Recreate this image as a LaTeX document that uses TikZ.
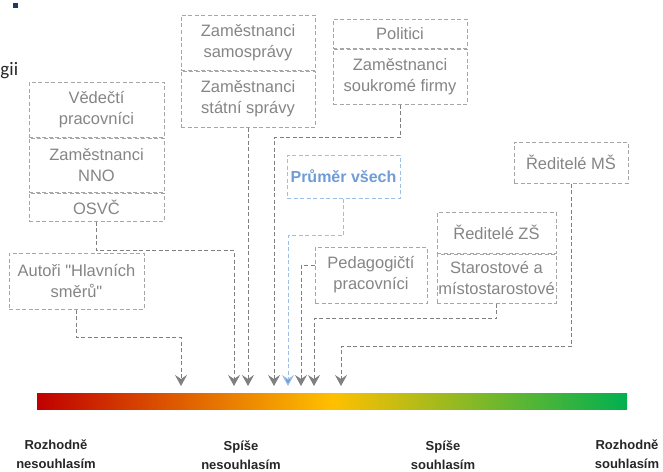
\documentclass[tikz,border=0pt]{standalone}
\usepackage{fontspec}
\setmainfont{Liberation Sans}
\newfontfamily\nadpisfont{Carlito}
\usetikzlibrary{positioning, arrows.meta}

\definecolor{ramecek}{HTML}{A6A6A6}
\definecolor{popis}{HTML}{858585}
\definecolor{sipka}{HTML}{808080}
\definecolor{modra}{HTML}{6F9CD6}
\definecolor{modraram}{HTML}{9DBFE6}
\definecolor{cerna}{HTML}{262626}
\definecolor{namornicka}{HTML}{1F3864}
\definecolor{osared}{HTML}{C00000}
\definecolor{osayellow}{HTML}{FFC000}
\definecolor{osagreen}{HTML}{00B050}

\pgfdeclarehorizontalshading{likert}{100bp}{color(0bp)=(osared); color(25bp)=(osared); color(50bp)=(osayellow); color(75bp)=(osagreen); color(100bp)=(osagreen)}

\tikzset{
  kat/.style={draw=ramecek, dash pattern=on 4pt off 2.5pt, line width=1pt, text=popis,
    font=\fontsize{16.5}{21}\selectfont, align=center, inner sep=0pt},
  spoj/.style={draw=sipka, dash pattern=on 4pt off 2.5pt, line width=1pt,
    -{Stealth[length=11pt, width=12pt, inset=4pt, fill=sipka]}},
  osalabel/.style={font=\bfseries\fontsize{13}{18.5}\selectfont, text=cerna, align=center},
}

\begin{document}
\begin{tikzpicture}[x=1pt, y=-1pt]
\useasboundingbox (0,0) rectangle (663,471);

% kousek titulku
\fill[namornicka] (13,3) rectangle (18,8);
\node[anchor=base west, font=\nadpisfont\fontsize{19}{23}\selectfont, text=cerna, inner sep=0pt] (gii) at (0.3,75) {gii};

% skupiny
\node[kat, minimum width=135pt, minimum height=55pt] (vedci) at (96.5,109.5) {Vědečtí\\pracovníci};
\node[kat, minimum width=135pt, minimum height=54pt, below=0pt of vedci] (nno) {Zaměstnanci\\NNO};
\node[kat, minimum width=135pt, minimum height=28pt, below=0pt of nno] (osvc) {OSVČ};

\node[kat, minimum width=135pt, minimum height=56pt] (autori) at (76.5,281) {Autoři \textquotedbl Hlavních\\směrů\textquotedbl};

\node[kat, minimum width=134pt, minimum height=55pt] (samosprava) at (248,42.5) {Zaměstnanci\\samosprávy};
\node[kat, minimum width=134pt, minimum height=56pt, below=0pt of samosprava] (statni) {Zaměstnanci\\státní správy};

\node[kat, minimum width=134pt, minimum height=29pt] (politici) at (400,33.5) {Politici};
\node[kat, minimum width=134pt, minimum height=55pt, below=0pt of politici] (firmy) {Zaměstnanci\\soukromé firmy};

\node[kat, draw=modraram, text=modra, font=\bfseries\fontsize{16}{21}\selectfont,
  minimum width=113pt, minimum height=43pt] (prumer) at (343.5,176.5) {Průměr všech};

\node[kat, minimum width=112pt, minimum height=56pt] (pedag) at (371,275) {Pedagogičtí\\pracovníci};

\node[kat, minimum width=119pt, minimum height=41pt] (zs) at (496.5,232.5) {Ředitelé ZŠ};
\node[kat, minimum width=119pt, minimum height=49pt, below=0pt of zs] (starostove) {Starostové a\\místostarostové};

\node[kat, minimum width=114pt, minimum height=41pt] (ms) at (571,162.5) {Ředitelé MŠ};

% skala
\node[shade, shading=likert, minimum width=590pt, minimum height=16pt, inner sep=0pt] (osa) at (332,401) {};

\node[osalabel] (rn) at (56,454) {Rozhodně\\nesouhlasím};
\node[osalabel] (sn) at (241,455) {Spíše\\nesouhlasím};
\node[osalabel] (ss) at (443,455) {Spíše\\souhlasím};
\node[osalabel] (rs) at (627,454) {Rozhodně\\souhlasím};

% hroty sipek
\coordinate (t1) at (181,386);
\coordinate (t2) at (234,386);
\coordinate (t3) at (248,386);
\coordinate (t4) at (274,386);
\coordinate (t5) at (288,386);
\coordinate (t6) at (301,386);
\coordinate (t7) at (314,386);
\coordinate (t8) at (341,386);

\draw[spoj] (autori.south) -- ++(0,28) -| (t1);
\draw[spoj] (osvc.south) -- ++(0,29) -| (t2);
\draw[spoj] (statni.south) -- (t3);
\draw[spoj] (firmy.south) -- ++(0,33) -| (t4);
\draw[spoj, draw=modraram, -{Stealth[length=11pt, width=12pt, inset=4pt, fill=modra]}] (prumer.south) -- ++(0,37) -| (t5);
\draw[spoj] ([yshift=10pt]pedag.west) -| (t6);
\draw[spoj] (starostove.south) -- ++(0,15) -| (t7);
\draw[spoj] (ms.south) -- ++(0,163) -| (t8);
\end{tikzpicture}
\end{document}
